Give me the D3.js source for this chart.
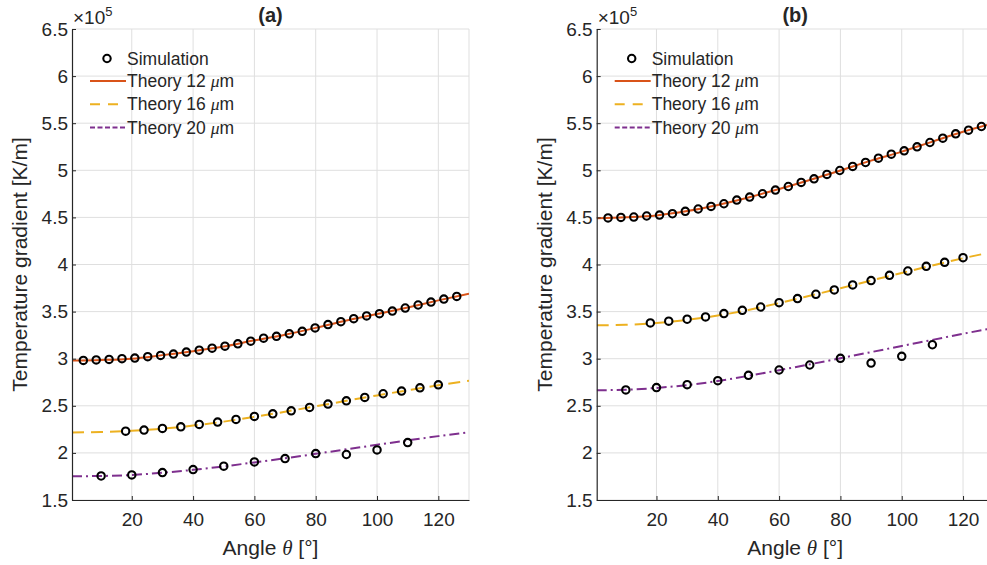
<!DOCTYPE html>
<html>
<head>
<meta charset="utf-8">
<script src="https://cdn.jsdelivr.net/npm/d3@7/dist/d3.min.js"></script>
<style>
  body { margin: 0; background: #fff; }
  text { font-family: "Liberation Sans", Arial, sans-serif; fill: #262626; }
</style>
</head>
<body>
<div id="chart"></div>
<script>
// simulation angles (deg)
var angles12 = [4.2, 8.4, 12.6, 16.8, 21, 25.2, 29.4, 33.6, 37.8, 42, 46.2, 50.4, 54.6, 58.8, 63,
                67.2, 71.4, 75.6, 79.8, 84, 88.2, 92.4, 96.6, 100.8, 105, 109.2, 113.4, 117.6, 121.8, 126];
var angles16 = [18, 24, 30, 36, 42, 48, 54, 60, 66, 72, 78, 84, 90, 96, 102, 108, 114, 120];
var angles20 = [10, 20, 30, 40, 50, 60, 70, 80, 90, 100, 110];

// panel (a) simulation, x1e5 K/m
var simA12 = [2.982, 2.987, 2.992, 3.000, 3.007, 3.021, 3.035, 3.049, 3.070, 3.091, 3.112, 3.133, 3.158, 3.186, 3.218,
              3.238, 3.264, 3.291, 3.327, 3.362, 3.393, 3.425, 3.454, 3.478, 3.506, 3.538, 3.570, 3.601, 3.633, 3.661];
var simA16 = [2.231, 2.242, 2.260, 2.277, 2.302, 2.327, 2.355, 2.387, 2.415, 2.447, 2.483, 2.518, 2.553, 2.589, 2.628, 2.656, 2.691, 2.723];
var simA20 = [1.755, 1.766, 1.791, 1.823, 1.859, 1.904, 1.940, 1.993, 1.983, 2.032, 2.110];

// panel (b) simulation
var simB12 = [4.494, 4.500, 4.504, 4.515, 4.525, 4.539, 4.564, 4.589, 4.617, 4.645, 4.684, 4.716, 4.751, 4.790, 4.828,
              4.871, 4.910, 4.956, 4.998, 5.041, 5.083, 5.129, 5.171, 5.207, 5.249, 5.295, 5.341, 5.387, 5.426, 5.465];
var simB16 = [3.380, 3.398, 3.419, 3.443, 3.479, 3.514, 3.549, 3.595, 3.638, 3.684, 3.730, 3.783, 3.829, 3.885, 3.931, 3.981, 4.023, 4.072];
var simB20 = [2.668, 2.693, 2.724, 2.767, 2.823, 2.880, 2.933, 3.004, 2.954, 3.025, 3.148];

// theory curves, read at these angles
var theoryAngles = [0.5, 10, 20, 30, 40, 50, 60, 70, 80, 90, 100, 110, 120, 130];
var theoryA12 = [2.980, 2.986, 3.000, 3.038, 3.080, 3.130, 3.195, 3.255, 3.327, 3.406, 3.474, 3.544, 3.619, 3.689];
var theoryA16 = [2.217, 2.221, 2.234, 2.257, 2.290, 2.332, 2.383, 2.437, 2.495, 2.553, 2.610, 2.665, 2.718, 2.766];
var theoryA20 = [1.752, 1.755, 1.766, 1.789, 1.820, 1.857, 1.899, 1.943, 1.990, 2.038, 2.086, 2.133, 2.178, 2.220];
var theoryB12 = [4.490, 4.501, 4.521, 4.567, 4.632, 4.712, 4.801, 4.897, 4.998, 5.103, 5.198, 5.304, 5.409, 5.500];
var theoryB16 = [3.355, 3.360, 3.378, 3.412, 3.458, 3.518, 3.590, 3.668, 3.748, 3.830, 3.910, 3.990, 4.066, 4.135];
var theoryB20 = [2.665, 2.670, 2.690, 2.720, 2.763, 2.818, 2.878, 2.940, 3.005, 3.070, 3.135, 3.200, 3.265, 3.325];

var xTicks = [20, 40, 60, 80, 100, 120];
var yTicks = [1.5, 2, 2.5, 3, 3.5, 4, 4.5, 5, 5.5, 6, 6.5];
var titles = ["(a)", "(b)"];
var theoryLabels = ["Theory 12 ", "Theory 16 ", "Theory 20 "];

var W = 987, H = 565;
var plotW = 397, plotTop = 29, plotBottom = 500;
var lefts = [72, 596.7];

var colors = ["#D95319", "#EDB120", "#7E2F8E"];
var dashes = [null, "12,7", "10,4,2,4"];

var panels = [
  {sim: [simA12, simA16, simA20], theory: [theoryA12, theoryA16, theoryA20]},
  {sim: [simB12, simB16, simB20], theory: [theoryB12, theoryB16, theoryB20]}
];
var simAngles = [angles12, angles16, angles20];

var svg = d3.select("#chart").append("svg")
    .attr("width", W).attr("height", H);

var y = d3.scaleLinear().domain([1.5, 6.5]).range([plotBottom, plotTop]);

panels.forEach(function(p, pi) {
  var left = lefts[pi];
  var x = d3.scaleLinear().domain([0.5, 130]).range([left, left + plotW]);
  var g = svg.append("g");

  var clipId = "clip" + pi;
  svg.append("clipPath").attr("id", clipId)
    .append("rect").attr("x", left).attr("y", plotTop).attr("width", plotW).attr("height", plotBottom - plotTop);

  // grid
  g.selectAll(".gx").data(xTicks).enter().append("line")
    .attr("x1", function(d) { return x(d); }).attr("x2", function(d) { return x(d); })
    .attr("y1", plotTop).attr("y2", plotBottom)
    .attr("stroke", "#dfdfdf").attr("stroke-width", 1);
  g.selectAll(".gy").data(yTicks).enter().append("line")
    .attr("x1", left).attr("x2", left + plotW)
    .attr("y1", function(d) { return y(d); }).attr("y2", function(d) { return y(d); })
    .attr("stroke", "#dfdfdf").attr("stroke-width", 1);
  g.append("line")
    .attr("x1", left + plotW).attr("x2", left + plotW)
    .attr("y1", plotTop).attr("y2", plotBottom)
    .attr("stroke", "#dfdfdf");

  // theory lines
  var line = d3.line()
    .x(function(d, i) { return x(theoryAngles[i]); })
    .y(function(d) { return y(d); })
    .curve(d3.curveMonotoneX);
  p.theory.forEach(function(t, k) {
    g.append("path")
      .datum(t)
      .attr("clip-path", "url(#" + clipId + ")")
      .attr("fill", "none")
      .attr("stroke", colors[k])
      .attr("stroke-width", 2)
      .attr("stroke-dasharray", dashes[k])
      .attr("d", line);
  });

  // simulation markers
  p.sim.forEach(function(s, k) {
    g.selectAll(".m" + k).data(s).enter().append("circle")
      .attr("cx", function(d, i) { return x(simAngles[k][i]); })
      .attr("cy", function(d) { return y(d); })
      .attr("r", 3.7)
      .attr("fill", "none")
      .attr("stroke", "#000")
      .attr("stroke-width", 2.1);
  });

  // axes
  var xAxis = g.append("g")
    .attr("transform", "translate(0," + plotBottom + ")")
    .call(d3.axisBottom(x).tickValues(xTicks).tickSizeInner(-4).tickSizeOuter(0).tickPadding(13));
  var yAxis = g.append("g")
    .attr("transform", "translate(" + left + ",0)")
    .call(d3.axisLeft(y).tickValues(yTicks).tickSizeInner(-4).tickSizeOuter(0).tickPadding(4)
      .tickFormat(function(d) { return String(d); }));
  [xAxis, yAxis].forEach(function(a) {
    a.select(".domain").attr("stroke", "#262626").attr("stroke-width", 1.2);
    a.selectAll(".tick line").attr("stroke", "#262626");
    a.selectAll(".tick text").attr("font-size", "19px").attr("fill", "#262626")
      .style("font-family", '"Liberation Sans", Arial, sans-serif');
  });

  // exponent
  var ex = g.append("text").attr("x", left + 1).attr("y", 24).attr("font-size", "19px");
  ex.append("tspan").text("\u00d710");
  ex.append("tspan").attr("font-size", "13px").attr("dy", -8).text("5");

  // title
  g.append("text")
    .attr("x", left + plotW / 2).attr("y", 22)
    .attr("text-anchor", "middle")
    .attr("font-size", "20px").attr("font-weight", "bold")
    .text(titles[pi]);

  // axis labels
  var xl = g.append("text")
    .attr("x", left + plotW / 2).attr("y", 555)
    .attr("text-anchor", "middle").attr("font-size", "21px");
  xl.append("tspan").text("Angle ");
  xl.append("tspan").style("font-family", '"Liberation Serif", serif').attr("font-style", "italic").text("\u03b8");
  xl.append("tspan").text(" [\u00b0]");

  g.append("text")
    .attr("transform", "translate(" + (left - 45) + "," + ((plotTop + plotBottom) / 2) + ") rotate(-90)")
    .attr("text-anchor", "middle").attr("font-size", "21px")
    .text("Temperature gradient [K/m]");

  // legend
  var lg = g.append("g").attr("transform", "translate(" + left + ",0)");
  lg.append("circle").attr("cx", 35).attr("cy", 58.5).attr("r", 3.7)
    .attr("fill", "none").attr("stroke", "#000").attr("stroke-width", 2.1);
  lg.append("text").attr("x", 55).attr("y", 64.5).attr("font-size", "17.5px").text("Simulation");
  theoryLabels.forEach(function(lab, k) {
    var ly = 81 + k * 23.3;
    lg.append("line").attr("x1", 18).attr("x2", 54).attr("y1", ly).attr("y2", ly)
      .attr("stroke", colors[k]).attr("stroke-width", 2)
      .attr("stroke-dasharray", k === 0 ? null : (k === 1 ? "10,8" : "5,2.5"));
    var t = lg.append("text").attr("x", 55).attr("y", ly + 6).attr("font-size", "17.5px");
    t.append("tspan").text(lab);
    t.append("tspan").attr("font-style", "italic").style("font-family", '"Liberation Serif", serif').text("\u03bc");
    t.append("tspan").text("m");
  });
});
</script>
</body>
</html>
